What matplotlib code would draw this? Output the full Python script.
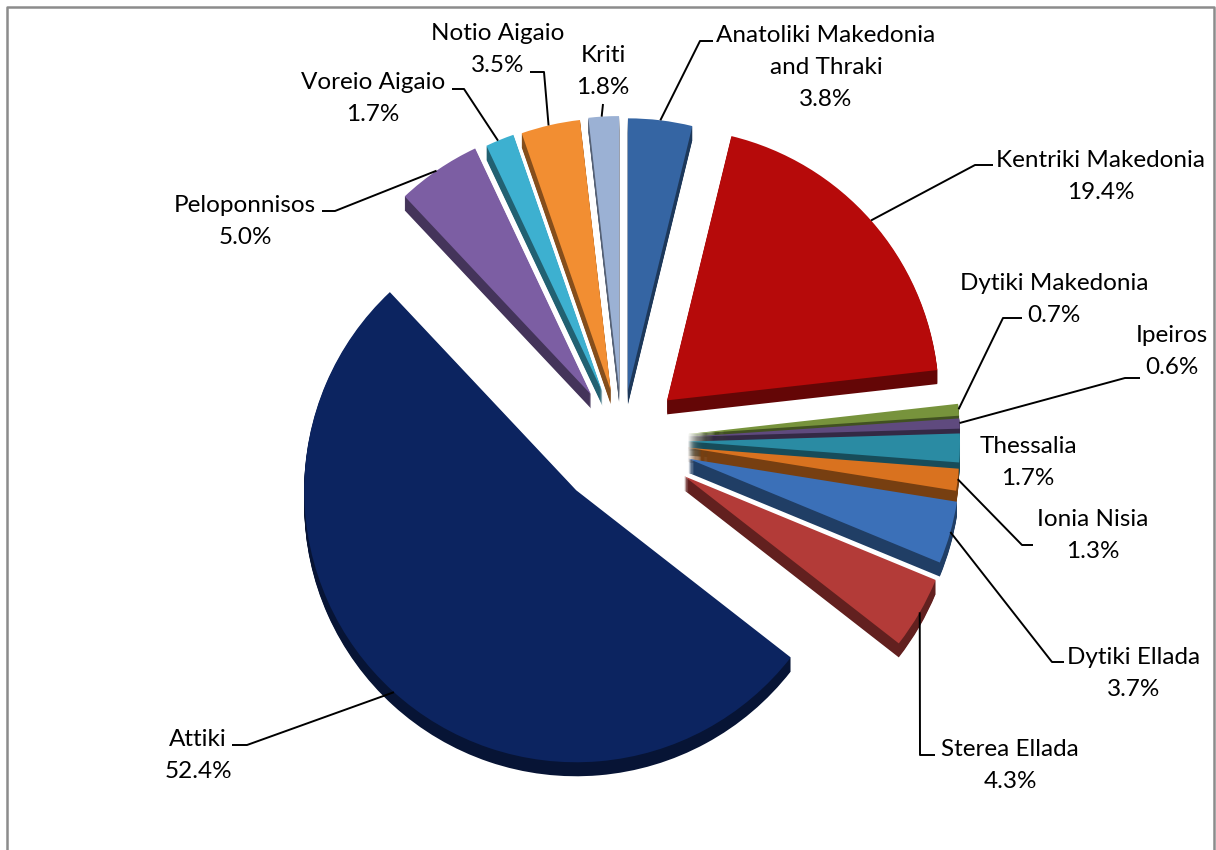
import matplotlib
matplotlib.use("Agg")
import matplotlib.pyplot as plt
import numpy as np
from matplotlib.colors import to_rgb

# region shares (%), clockwise from 12 o'clock
regions = ["Anatoliki Makedonia\nand Thraki", "Kentriki Makedonia", "Dytiki Makedonia",
           "Ipeiros", "Thessalia", "Ionia Nisia", "Dytiki Ellada", "Sterea Ellada",
           "Attiki", "Peloponnisos", "Voreio Aigaio", "Notio Aigaio", "Kriti"]
shares = [3.8, 19.4, 0.7, 0.6, 1.7, 1.3, 3.7, 4.3, 52.4, 5.0, 1.7, 3.5, 1.8]

colors = ["#3565A3", "#B60A0A", "#77933C", "#5F4A7E", "#2A8BA3", "#D9721F", "#3B70B8",
          "#B33B38", "#0C2460", "#7C5EA3", "#3DB0D0", "#F28E32", "#9BB1D4"]
explode = [50, 60, 66, 66, 66, 66, 69, 72, 68, 55, 52, 51, 52]

# pixel-like coordinates (y negated so pie runs clockwise on screen)
W, H = 1216, 850
CX, CY = 622, 440
R = 272
DEPTH = 14

fig = plt.figure(figsize=(W / 100, H / 100), dpi=100)
ax = fig.add_axes([0, 0, 1, 1])

side_cols = [tuple(np.array(to_rgb(c)) * 0.55) for c in colors]
for k in range(DEPTH, 0, -1):
    ax.pie(shares, startangle=90, counterclock=False, radius=R, center=(CX, -CY - k),
           explode=explode, colors=side_cols, wedgeprops=dict(linewidth=0))
ax.pie(shares, startangle=90, counterclock=False, radius=R, center=(CX, -CY),
       explode=explode, colors=colors, wedgeprops=dict(linewidth=0))

# label layout: (center x, first line y) and leader path (elbow, end), in pixels
label_pos = [(826, 35), (1101, 160), (1054, 284), (1172, 335), (1028, 446), (1093, 520),
             (1134, 657), (1010, 750), (198, 740), (245, 205), (373, 82), (498, 33), (603, 55)]
leaders = [[(700, 41), (713, 41)], [(975, 165), (993, 165)], [(1003, 318), (1022, 318)],
           [(1125, 378), (1140, 378)], None, [(1022, 545), (1033, 545)],
           [(1052, 662), (1064, 662)], [(920, 755), (935, 755)], [(247, 745), (232, 745)],
           [(335, 211), (322, 211)], [(464, 89), (452, 89)], [(544, 72), (530, 72)],
           [(603, 104)]]

cum = np.cumsum([0] + shares) / 100.0
for i, name in enumerate(regions):
    lines = name.split("\n") + ["%.1f%%" % shares[i]]
    x0, y0 = label_pos[i]
    for j, t in enumerate(lines):
        ax.text(x0, -(y0 + 32 * j), t, ha="center", va="center", fontsize=17.5,
                family="Lato", color="black")
    if leaders[i] is None:
        continue
    th = np.radians(90 - 360 * (cum[i] + cum[i + 1]) / 2)
    rr = R + explode[i]
    pts = [(CX + rr * np.cos(th), -CY + rr * np.sin(th))]
    pts += [(px, -py) for px, py in leaders[i]]
    ax.plot([p[0] for p in pts], [p[1] for p in pts], color="black", lw=1.4,
            solid_capstyle="butt")

# chart border
ax.plot([7, 7, 1214, 1214], [-H - 5, -7, -7, -H - 5], color="#8C8C8C", lw=1.8)

ax.set_xlim(0, W)
ax.set_ylim(-H, 0)
ax.set_aspect("auto")
ax.axis("off")

plt.savefig("out.png", dpi=100)
